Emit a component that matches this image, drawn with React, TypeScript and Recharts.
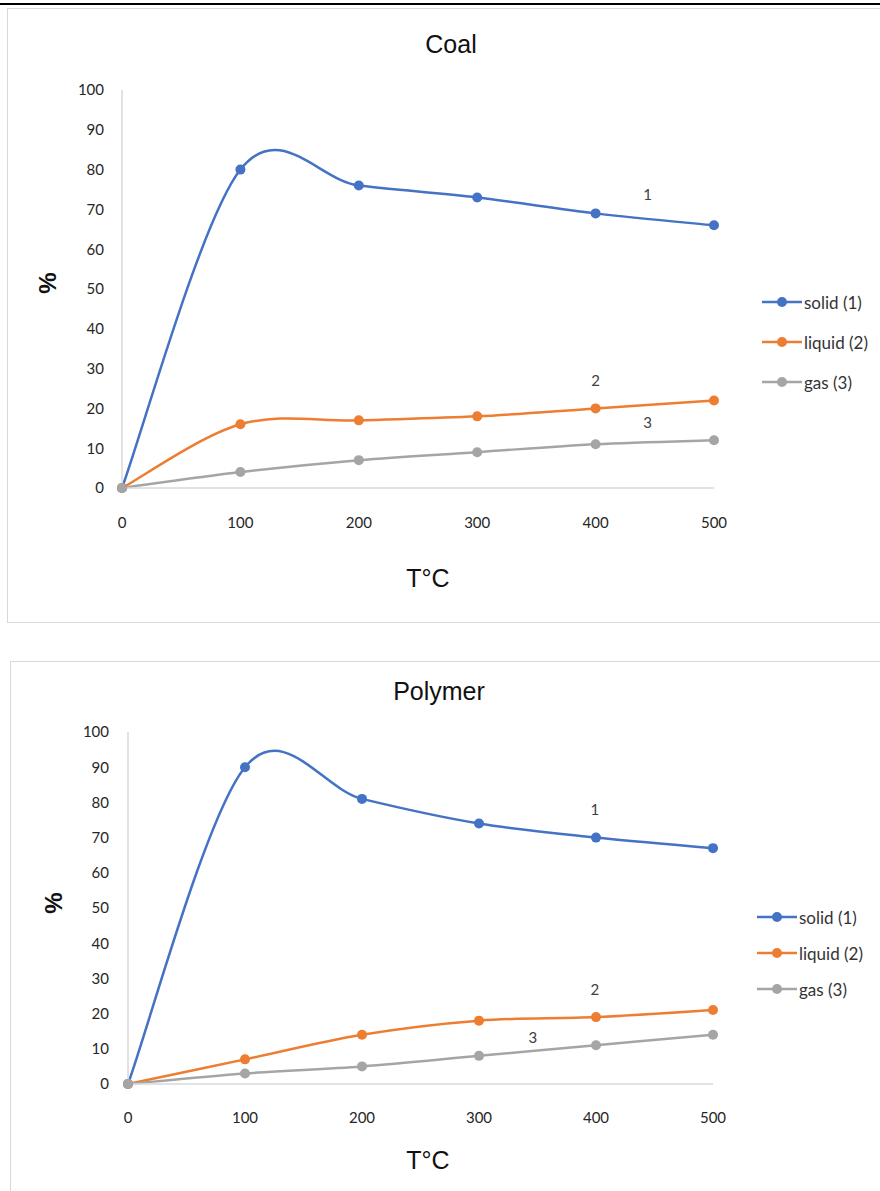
import { LineChart, Line, XAxis, YAxis, Legend, ReferenceDot } from 'recharts'

const temps = [0, 100, 200, 300, 400, 500]
const yTicks = [0, 10, 20, 30, 40, 50, 60, 70, 80, 90, 100]
const seriesNames = ['solid (1)', 'liquid (2)', 'gas (3)']
const seriesColors = ['#4472C4', '#ED7D31', '#A5A5A5']

const coalSolid = [0, 80, 76, 73, 69, 66]
const coalLiquid = [0, 16, 17, 18, 20, 22]
const coalGas = [0, 4, 7, 9, 11, 12]

const polymerSolid = [0, 90, 81, 74, 70, 67]
const polymerLiquid = [0, 7, 14, 18, 19, 21]
const polymerGas = [0, 3, 5, 8, 11, 14]

// curve numbers written next to the lines (in data units)
const coalNotes = [
  { t: 444, v: 73.6, text: '1' },
  { t: 400, v: 27, text: '2' },
  { t: 444, v: 16.3, text: '3' },
]
const polymerNotes = [
  { t: 399, v: 77.8, text: '1' },
  { t: 399, v: 26.7, text: '2' },
  { t: 346, v: 13.1, text: '3' },
]

const TICK_FONT = 'Lato, "Open Sans", sans-serif'
const TITLE_FONT = '"Liberation Sans", Arial, sans-serif'
const Y_AXIS_W = 60
const X_AXIS_H = 30

// Excel-like smoothing (Catmull-Rom through every point)
function excelSmooth(context: any) {
  let pts: number[][] = []
  return {
    areaStart() {},
    areaEnd() {},
    lineStart() {
      pts = []
    },
    point(x: number, y: number) {
      pts.push([+x, +y])
    },
    lineEnd() {
      const n = pts.length
      if (!n) return
      context.moveTo(pts[0][0], pts[0][1])
      for (let i = 0; i < n - 1; i++) {
        const p0 = pts[i > 0 ? i - 1 : 0]
        const p1 = pts[i]
        const p2 = pts[i + 1]
        const p3 = pts[i + 2 < n ? i + 2 : n - 1]
        context.bezierCurveTo(
          p1[0] + (p2[0] - p0[0]) / 6,
          p1[1] + (p2[1] - p0[1]) / 6,
          p2[0] - (p3[0] - p1[0]) / 6,
          p2[1] - (p3[1] - p1[1]) / 6,
          p2[0],
          p2[1],
        )
      }
    },
  }
}

type Note = { t: number; v: number; text: string }

type PanelProps = {
  title: string
  solid: number[]
  liquid: number[]
  gas: number[]
  notes: Note[]
  top: number
  height: number
  plot: { top: number; right: number; bottom: number; left: number }
  xTickMargin: number
  yTickMargin: number
  titlePos: [number, number]
  xTitlePos: [number, number]
  yTitlePos: [number, number]
  legendPos: [number, number]
  legendRow: number
}

function makeLegend(rowHeight: number) {
  return (props: any) => {
    const items = [...(props.payload || [])].sort(
      (a: any, b: any) => seriesNames.indexOf(a.value) - seriesNames.indexOf(b.value),
    )
    return (
      <div>
        {items.map((e: any) => (
          <div key={e.value} style={{ display: 'flex', alignItems: 'center', height: rowHeight }}>
            <svg width={40} height={12} style={{ display: 'block' }}>
              <line x1={0} y1={6} x2={40} y2={6} stroke={e.color} strokeWidth={2.5} />
              <circle cx={20} cy={6} r={5} fill={e.color} />
            </svg>
            <span style={{ marginLeft: 2, fontFamily: TICK_FONT, fontSize: 17, color: '#333' }}>
              {e.value}
            </span>
          </div>
        ))}
      </div>
    )
  }
}

function Panel(p: PanelProps) {
  const rows = temps.map((t, i) => ({ t, solid: p.solid[i], liquid: p.liquid[i], gas: p.gas[i] }))
  const keys = ['solid', 'liquid', 'gas']
  // plot box edges in chart coordinates; axes take their own room out of the margins
  const margin = {
    top: p.plot.top,
    right: 880 - p.plot.right,
    bottom: p.height - p.plot.bottom - X_AXIS_H,
    left: p.plot.left - Y_AXIS_W,
  }
  return (
    <div style={{ position: 'absolute', left: 0, top: p.top }}>
      <LineChart width={880} height={p.height} data={rows} margin={margin}>
        <XAxis
          dataKey="t"
          type="number"
          domain={[0, 500]}
          ticks={temps}
          height={X_AXIS_H}
          tickLine={false}
          tickSize={0}
          tickMargin={p.xTickMargin}
          axisLine={{ stroke: '#d9d9d9', strokeWidth: 1.5 }}
          tick={{ fill: '#262626', fontSize: 15, fontFamily: TICK_FONT }}
        />
        <YAxis
          type="number"
          domain={[0, 100]}
          ticks={yTicks}
          width={Y_AXIS_W}
          tickLine={false}
          tickSize={0}
          tickMargin={p.yTickMargin}
          axisLine={{ stroke: '#d9d9d9', strokeWidth: 1.5 }}
          tick={{ fill: '#262626', fontSize: 15, fontFamily: TICK_FONT }}
        />
        <Legend
          layout="vertical"
          align="center"
          verticalAlign="middle"
          wrapperStyle={{ left: p.legendPos[0], top: p.legendPos[1] }}
          content={makeLegend(p.legendRow)}
        />
        {keys.map((k, i) => (
          <Line
            key={k}
            dataKey={k}
            name={seriesNames[i]}
            type={excelSmooth as any}
            stroke={seriesColors[i]}
            strokeWidth={2.5}
            dot={{ r: 5, fill: seriesColors[i], stroke: seriesColors[i], strokeWidth: 0 }}
            activeDot={false}
            isAnimationActive={false}
          />
        ))}
        {p.notes.map((n) => (
          <ReferenceDot
            key={n.text}
            x={n.t}
            y={n.v}
            r={0.01}
            fill="none"
            stroke="none"
            label={{ value: n.text, position: 'center', fill: '#404040', fontSize: 15, fontFamily: TICK_FONT }}
          />
        ))}
        <text
          x={p.titlePos[0]}
          y={p.titlePos[1]}
          textAnchor="middle"
          fontFamily={TITLE_FONT}
          fontSize={25}
          fill="#111"
        >
          {p.title}
        </text>
        <text
          x={p.xTitlePos[0]}
          y={p.xTitlePos[1]}
          textAnchor="middle"
          fontFamily={TITLE_FONT}
          fontSize={25}
          fill="#111"
        >
          T°C
        </text>
        <text
          x={p.yTitlePos[0]}
          y={p.yTitlePos[1]}
          textAnchor="middle"
          dominantBaseline="central"
          fontFamily={TITLE_FONT}
          fontSize={24}
          fontWeight="bold"
          fill="#111"
          transform={`rotate(-90 ${p.yTitlePos[0]} ${p.yTitlePos[1]})`}
        >
          %
        </text>
      </LineChart>
    </div>
  )
}

export default function App() {
  return (
    <div
      style={{
        position: 'absolute',
        left: 0,
        top: 0,
        width: 880,
        height: 1191,
        overflow: 'hidden',
        background: '#fff',
      }}
    >
      <div style={{ position: 'absolute', left: 0, top: 3, width: 880, height: 2, background: '#000' }} />
      <div
        style={{
          position: 'absolute',
          left: 7,
          top: 8,
          width: 900,
          height: 613,
          border: '1.5px solid #d9d9d9',
        }}
      />
      <div
        style={{
          position: 'absolute',
          left: 10,
          top: 661,
          width: 900,
          height: 600,
          border: '1.5px solid #d9d9d9',
        }}
      />
      <Panel
        title="Coal"
        solid={coalSolid}
        liquid={coalLiquid}
        gas={coalGas}
        notes={coalNotes}
        top={0}
        height={622}
        plot={{ top: 90, right: 714, bottom: 488, left: 122 }}
        xTickMargin={29}
        yTickMargin={18}
        titlePos={[451, 53]}
        xTitlePos={[428, 587]}
        yTitlePos={[47, 283]}
        legendPos={[762, 282]}
        legendRow={40}
      />
      <Panel
        title="Polymer"
        solid={polymerSolid}
        liquid={polymerLiquid}
        gas={polymerGas}
        notes={polymerNotes}
        top={640}
        height={551}
        plot={{ top: 92, right: 713, bottom: 1084 - 640, left: 128 }}
        xTickMargin={28}
        yTickMargin={19}
        titlePos={[439, 700 - 640]}
        xTitlePos={[428, 1169 - 640]}
        yTitlePos={[53, 903 - 640]}
        legendPos={[757, 899 - 640]}
        legendRow={36}
      />
    </div>
  )
}
